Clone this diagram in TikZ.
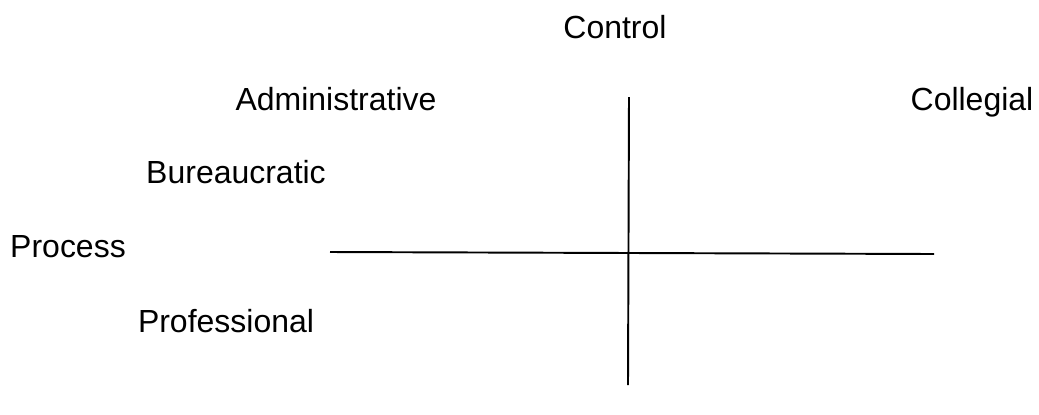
\documentclass[tikz,border=0pt]{standalone}
\usepackage{fontspec}
\setmainfont{Liberation Sans}
\usepackage{tikz}
\usetikzlibrary{positioning}

\tikzset{
  lbl/.style={font=\fontsize{18.2}{21}\selectfont, inner sep=0pt, anchor=base},
  axis/.style={line width=1.1pt, black}
}

\begin{document}
\begin{tikzpicture}[x=0.02cm, y=-0.02cm]
                \useasboundingbox (0,0) rectangle (1039,414);

                % Labels
                \node[lbl] (control) at (615,38) {Control};
                \node[lbl] (admin) at (336,110) {Administrative};
                \node[lbl] (colleg) at (972,110) {Collegial};
                \node[lbl] (bureau) at (236,183) {Bureaucratic};
                \node[lbl] (process) at (68,257) {Process};
                \node[lbl] (prof) at (226,332) {Professional};

                % Axes
                \coordinate (vtop) at (629,97);
                \coordinate (vbot) at (628,385);
                \coordinate (hleft) at (330,252);
                \coordinate (hright) at (934,254);
                \draw[axis] (vtop) -- (vbot);
                \draw[axis] (hleft) -- (hright);
\end{tikzpicture}
\end{document}
